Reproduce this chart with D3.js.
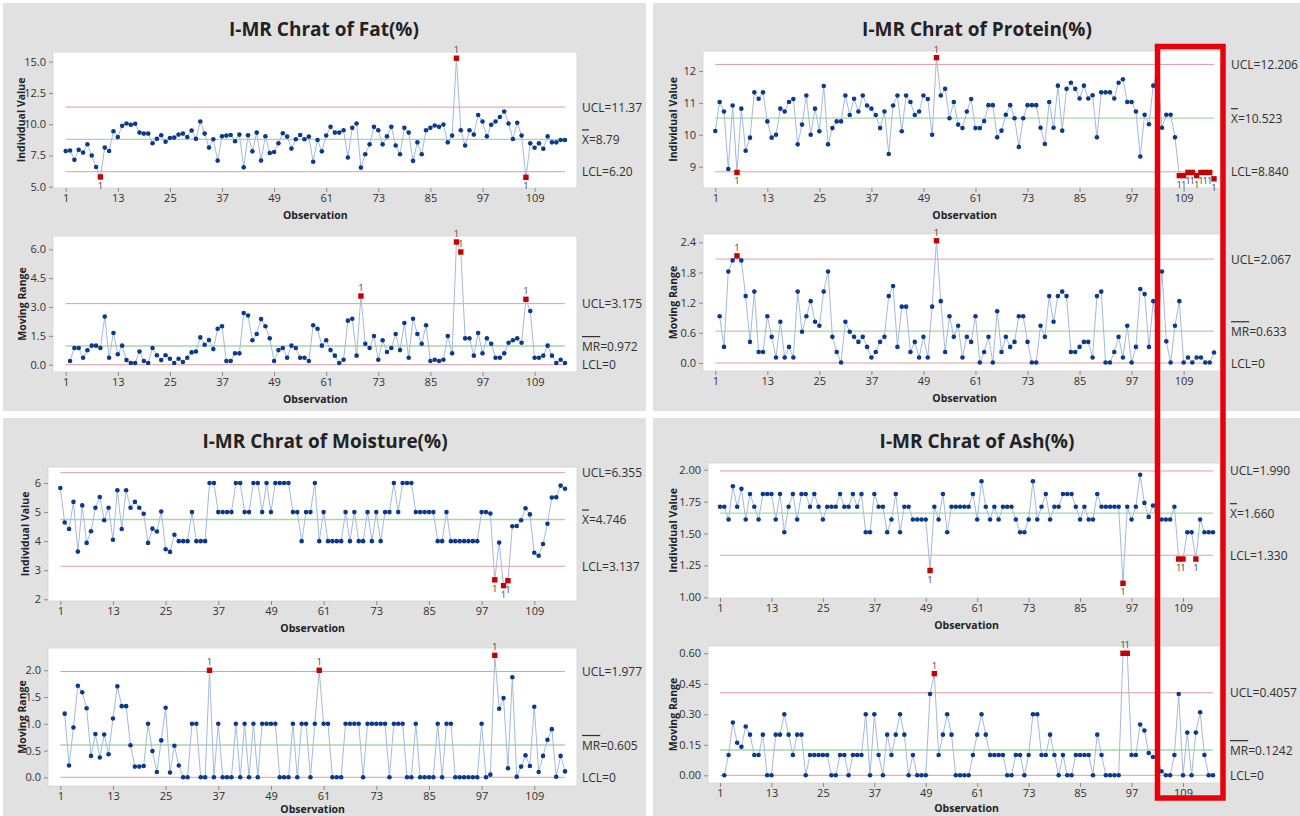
<!DOCTYPE html>
<html>
<head>
<meta charset="utf-8">
<script src="https://cdn.jsdelivr.net/npm/d3@7"></script>
<style>
  body { margin: 0; background: #fff; }
  svg { display: block; font-family: 'Open Sans', 'Noto Sans', sans-serif; }
</style>
</head>
<body>
<svg id="chart" width="1300" height="816"></svg>
<script>
// ---- data ----
const titles = ['I-MR Chrat of Fat(%)', 'I-MR Chrat of Protein(%)', 'I-MR Chrat of Moisture(%)', 'I-MR Chrat of Ash(%)'];
const obsTicks = [1, 13, 25, 37, 49, 61, 73, 85, 97, 109];

const fatInd = [7.85,7.90,7.15,7.95,7.73,8.40,7.50,6.58,5.78,8.13,
  7.86,9.44,8.98,9.87,10.05,9.95,10.03,9.33,9.25,9.25,
  8.48,8.83,9.12,8.60,8.90,8.93,9.17,9.25,8.98,9.50,
  8.83,10.21,9.25,8.13,8.80,7.09,9.04,9.09,9.14,8.64,
  9.17,6.55,9.12,7.83,9.33,7.09,9.04,7.70,7.78,8.48,
  9.28,9.01,8.05,8.80,9.14,8.80,9.01,7.00,8.74,7.83,
  9.10,9.79,9.33,9.33,9.52,7.34,9.71,10.06,6.53,7.60,
  8.39,9.79,9.52,8.39,9.03,9.79,8.30,7.60,9.71,9.33,
  7.07,8.55,7.60,9.52,9.71,9.89,9.79,9.97,8.55,9.09,
  15.28,9.52,8.30,9.52,9.17,10.73,10.22,9.03,9.95,10.22,
  10.57,11.02,10.06,8.82,10.11,9.09,5.75,8.47,8.12,8.47,
  8.04,9.03,8.55,8.55,8.74,8.74];
const fatMR = [0.19,0.87,0.87,0.36,0.75,0.99,0.99,0.87,2.50,
  0.36,1.65,0.54,0.99,0.24,0.09,0.09,0.69,0.19,0.09,
  0.87,0.49,0.24,0.49,0.31,0.09,0.31,0.14,0.36,0.64,
  0.69,1.42,1.04,1.28,0.81,1.87,2.00,0.19,0.19,0.59,
  0.59,2.69,2.56,1.27,1.60,2.37,2.00,1.37,0.19,0.76,
  0.87,0.36,0.99,0.87,0.36,0.36,0.19,2.05,1.87,0.99,
  1.27,0.76,0.47,0.09,0.26,2.29,2.39,0.47,3.57,1.09,
  0.87,1.49,0.26,1.27,0.66,0.87,1.60,0.76,2.17,0.36,
  2.39,1.60,1.09,2.05,0.19,0.26,0.19,0.26,1.49,0.59,
  6.38,5.86,1.37,1.37,0.47,1.65,0.59,1.37,1.09,0.36,
  0.36,0.59,1.14,1.27,1.37,1.14,3.40,2.79,0.36,0.36,
  0.47,0.99,0.47,0.09,0.26,0.09];
const fatIndLim = [6.20, 8.79, 11.37];
const fatIndTxt = ['6.20', '8.79', '11.37'];
const fatMRLim = [0, 0.972, 3.175];
const fatMRTxt = ['0', '0.972', '3.175'];

const proteinInd = [10.12,11.03,10.73,8.93,10.92,8.82,10.82,9.50,9.91,11.33,
  11.13,11.33,10.42,9.91,10.00,10.82,10.73,11.03,11.12,9.70,
  10.32,11.23,10.00,10.82,10.11,11.53,9.70,10.21,10.42,10.42,
  11.23,10.62,11.13,10.73,11.23,10.92,10.82,10.62,10.21,10.73,
  9.40,10.92,11.23,10.11,11.23,11.03,10.62,10.73,11.23,11.12,
  10.00,12.42,11.23,11.44,10.52,11.03,10.32,10.21,10.73,11.12,
  10.21,10.21,10.43,10.93,10.93,9.92,10.13,10.63,10.93,10.52,
  9.62,10.52,10.93,10.93,10.93,10.22,9.71,11.03,10.22,11.54,
  10.13,11.44,11.63,11.44,11.14,11.54,11.14,11.24,9.92,11.33,
  11.33,11.33,11.14,11.63,11.74,11.03,11.03,10.73,9.32,10.63,
  10.33,11.54,12.04,10.22,10.63,10.63,9.92,8.72,8.72,8.82,
  8.82,8.72,8.82,8.82,8.82,8.62];
const proteinMR = [0.93,0.32,1.82,2.04,2.13,2.04,1.33,0.42,1.42,
  0.22,0.22,0.93,0.52,0.11,0.82,0.11,0.32,0.11,1.42,
  0.62,0.93,1.23,0.82,0.74,1.42,1.82,0.52,0.22,0.01,
  0.82,0.62,0.52,0.42,0.52,0.32,0.11,0.22,0.42,0.52,
  1.33,1.53,0.32,1.12,1.12,0.22,0.42,0.11,0.52,0.11,
  1.12,2.43,1.23,0.22,0.93,0.52,0.74,0.11,0.52,0.42,
  0.93,0.01,0.22,0.52,0.01,1.03,0.22,0.52,0.32,0.42,
  0.93,0.93,0.42,0.01,0.01,0.74,0.52,1.33,0.82,1.33,
  1.42,1.33,0.22,0.22,0.32,0.42,0.42,0.11,1.33,1.42,
  0.01,0.01,0.22,0.52,0.11,0.74,0.01,0.32,1.47,1.37,
  0.32,1.23,0.52,1.82,0.43,0.01,0.74,1.23,0.01,0.11,
  0.01,0.11,0.11,0.01,0.01,0.21];
const proteinIndLim = [8.840, 10.523, 12.206];
const proteinIndTxt = ['8.840', '10.523', '12.206'];
const proteinMRLim = [0, 0.633, 2.067];
const proteinMRTxt = ['0', '0.633', '2.067'];

const moistureInd = [5.83,4.64,4.42,5.35,3.64,5.23,3.94,4.34,5.15,5.52,
  4.72,5.15,4.05,5.75,4.42,5.75,5.15,5.35,5.15,4.94,
  3.94,4.43,4.33,5.02,3.72,3.63,4.22,4.00,4.00,4.00,
  5.00,4.00,4.00,4.00,6.00,6.00,5.00,5.00,5.00,5.00,
  6.00,6.00,5.00,5.00,6.00,6.00,5.00,6.00,5.00,6.00,
  6.00,6.00,6.00,5.00,5.00,4.00,5.00,5.00,6.00,4.00,
  5.00,4.00,4.00,4.00,4.00,5.00,4.00,5.00,4.00,4.00,
  5.00,4.00,5.00,4.00,5.00,5.00,6.00,5.00,6.00,6.00,
  6.00,5.00,5.00,5.00,5.00,5.00,4.00,4.00,5.00,4.00,
  4.00,4.00,4.00,4.00,4.00,4.00,5.00,5.00,4.95,2.67,
  3.95,2.47,2.64,4.51,4.52,4.72,5.13,4.92,3.60,3.50,
  3.90,4.60,5.50,5.51,5.91,5.80];
const moistureMR = [1.19,0.22,0.93,1.71,1.59,1.29,0.40,0.81,0.37,
  0.80,0.43,1.10,1.70,1.33,1.33,0.60,0.20,0.20,0.21,
  1.00,0.49,0.10,0.69,1.30,0.09,0.59,0.22,0.00,0.00,
  1.00,1.00,0.00,0.00,2.00,0.00,1.00,0.00,0.00,0.00,
  1.00,0.00,1.00,0.00,1.00,0.00,1.00,1.00,1.00,1.00,
  0.00,0.00,0.00,1.00,0.00,1.00,1.00,0.00,1.00,2.00,
  1.00,1.00,0.00,0.00,0.00,1.00,1.00,1.00,1.00,0.00,
  1.00,1.00,1.00,1.00,1.00,0.00,1.00,1.00,1.00,0.00,
  0.00,1.00,0.00,0.00,0.00,0.00,1.00,0.00,1.00,1.00,
  0.00,0.00,0.00,0.00,0.00,0.00,1.00,0.00,0.05,2.28,
  1.28,1.48,0.17,1.87,0.01,0.20,0.41,0.21,1.32,0.10,
  0.40,0.70,0.90,0.01,0.40,0.11];
const moistureIndLim = [3.137, 4.746, 6.355];
const moistureIndTxt = ['3.137', '4.746', '6.355'];
const moistureMRLim = [0, 0.605, 1.977];
const moistureMRTxt = ['0', '0.605', '1.977'];

const ashInd = [1.71,1.71,1.61,1.87,1.71,1.85,1.61,1.81,1.71,1.61,
  1.81,1.81,1.81,1.61,1.81,1.51,1.71,1.81,1.61,1.81,
  1.81,1.71,1.81,1.71,1.61,1.71,1.71,1.71,1.81,1.71,
  1.71,1.81,1.71,1.81,1.51,1.51,1.81,1.71,1.71,1.51,
  1.61,1.81,1.51,1.71,1.71,1.61,1.61,1.61,1.61,1.21,
  1.71,1.61,1.81,1.51,1.71,1.71,1.71,1.71,1.71,1.81,
  1.61,1.91,1.71,1.61,1.71,1.61,1.71,1.71,1.71,1.61,
  1.51,1.51,1.61,1.91,1.61,1.71,1.81,1.61,1.71,1.71,
  1.81,1.81,1.81,1.71,1.61,1.71,1.61,1.61,1.81,1.71,
  1.71,1.71,1.71,1.71,1.11,1.71,1.61,1.71,1.96,1.74,
  1.63,1.72,1.63,1.61,1.61,1.61,1.71,1.30,1.30,1.51,
  1.51,1.30,1.61,1.51,1.51,1.51];
const ashMR = [0.00,0.10,0.26,0.16,0.14,0.24,0.20,0.10,0.10,
  0.20,0.00,0.00,0.20,0.20,0.30,0.20,0.10,0.20,0.20,
  0.00,0.10,0.10,0.10,0.10,0.10,0.00,0.00,0.10,0.10,
  0.00,0.10,0.10,0.10,0.30,0.00,0.30,0.10,0.00,0.20,
  0.10,0.20,0.30,0.20,0.00,0.10,0.00,0.00,0.00,0.40,
  0.50,0.10,0.20,0.30,0.20,0.00,0.00,0.00,0.00,0.10,
  0.20,0.30,0.20,0.10,0.10,0.10,0.10,0.00,0.00,0.10,
  0.10,0.00,0.10,0.30,0.30,0.10,0.10,0.20,0.10,0.00,
  0.10,0.00,0.00,0.10,0.10,0.10,0.10,0.00,0.20,0.10,
  0.00,0.00,0.00,0.00,0.60,0.60,0.10,0.10,0.25,0.22,
  0.11,0.09,0.09,0.02,0.00,0.00,0.10,0.40,0.00,0.21,
  0.00,0.21,0.31,0.10,0.00,0.00];
const ashIndLim = [1.330, 1.660, 1.990];
const ashIndTxt = ['1.330', '1.660', '1.990'];
const ashMRLim = [0, 0.1242, 0.4057];
const ashMRTxt = ['0', '0.1242', '0.4057'];

// ---- layout ----
const svg = d3.select('#chart');

const colors = {
  panel: '#e1e1e1',
  dot: '#0b3a8c',
  line: '#a3badb',
  limit: '#e29ca4',
  center: '#a8d6a8',
  out: '#c80000',
  text: '#303030'
};

const panels = [
  {x: 3, y: 3, w: 643, h: 408, tx: 324, ty: 29},
  {x: 653, y: 3, w: 647, h: 408, tx: 977, ty: 29},
  {x: 3, y: 418, w: 643, h: 398, tx: 325, ty: 441},
  {x: 653, y: 418, w: 647, h: 398, tx: 977, ty: 441}
];

const charts = [
  // fat
  {vals: fatInd, start: 1, lim: fatIndLim, txt: fatIndTxt, mr: false, box: [53, 577, 52, 188], xr: [65.7, 565],
    yd: [5, 15], yr: [186.7, 61.7], yt: [5, 7.5, 10, 12.5, 15], fmt: '.1f', lx: 582, alx: 21, oy: 27},
  {vals: fatMR, start: 2, lim: fatMRLim, txt: fatMRTxt, mr: true, box: [53, 577, 236, 372], xr: [65.7, 565],
    yd: [0, 6], yr: [364.7, 249.3], yt: [0, 1.5, 3, 4.5, 6], fmt: '.1f', lx: 582, alx: 22, oy: 27},
  // protein
  {vals: proteinInd, start: 1, lim: proteinIndLim, txt: proteinIndTxt, mr: false, box: [703, 1222, 51, 188], xr: [715.3, 1214],
    yd: [9, 12], yr: [166.7, 71], yt: [9, 10, 11, 12], fmt: 'd', lx: 1231, alx: 673, oy: 27},
  {vals: proteinMR, start: 2, lim: proteinMRLim, txt: proteinMRTxt, mr: true, box: [703, 1222, 234, 371], xr: [715.3, 1214],
    yd: [0, 2.4], yr: [363, 242.3], yt: [0, 0.6, 1.2, 1.8, 2.4], fmt: '.1f', lx: 1231, alx: 673, oy: 27},
  // moisture
  {vals: moistureInd, start: 1, lim: moistureIndLim, txt: moistureIndTxt, mr: false, box: [48, 577, 467, 601], xr: [60.3, 565],
    yd: [2, 6], yr: [599.3, 483], yt: [2, 3, 4, 5, 6], fmt: 'd', lx: 582, alx: 25, oy: 27},
  {vals: moistureMR, start: 2, lim: moistureMRLim, txt: moistureMRTxt, mr: true, box: [48, 577, 648, 786], xr: [60.3, 565],
    yd: [0, 2], yr: [777.3, 670.3], yt: [0, 0.5, 1, 1.5, 2], fmt: '.1f', lx: 582, alx: 22, oy: 23},
  // ash
  {vals: ashInd, start: 1, lim: ashIndLim, txt: ashIndTxt, mr: false, box: [708, 1221, 463, 598], xr: [720, 1213],
    yd: [1, 2], yr: [597.3, 469.7], yt: [1, 1.25, 1.5, 1.75, 2], fmt: '.2f', lx: 1230, alx: 673, oy: 27},
  {vals: ashMR, start: 2, lim: ashMRLim, txt: ashMRTxt, mr: true, box: [708, 1221, 646, 783], xr: [720, 1213],
    yd: [0, 0.6], yr: [775.3, 653.3], yt: [0, 0.15, 0.3, 0.45, 0.6], fmt: '.2f', lx: 1230, alx: 673, oy: 25}
];

// panels + titles
panels.forEach((p, i) => {
  svg.append('rect')
    .attr('x', p.x).attr('y', p.y)
    .attr('width', p.w).attr('height', p.h)
    .attr('fill', colors.panel);
  svg.append('text')
    .attr('x', p.tx).attr('y', p.ty)
    .attr('text-anchor', 'middle')
    .attr('dominant-baseline', 'central')
    .attr('font-size', '19px')
    .attr('font-weight', 'bold')
    .attr('fill', '#222')
    .text(titles[i]);
});

function drawChart(c) {
  let g = svg.append('g');
  let [x0, x1, y0, y1] = c.box;

  g.append('rect')
    .attr('x', x0).attr('y', y0)
    .attr('width', x1 - x0).attr('height', y1 - y0)
    .attr('fill', '#fff')
    .attr('stroke', '#d4d4d4')
    .attr('stroke-width', 0.8);

  let x = d3.scaleLinear().domain([1, 116]).range(c.xr);
  let y = d3.scaleLinear().domain(c.yd).range(c.yr);

  let yAxis = g.append('g')
    .attr('transform', `translate(${x0},0)`)
    .call(d3.axisLeft(y).tickValues(c.yt).tickFormat(d3.format(c.fmt)).tickSize(4).tickPadding(3));
  let xAxis = g.append('g')
    .attr('transform', `translate(0,${y1})`)
    .call(d3.axisBottom(x).tickValues(obsTicks).tickSize(4).tickPadding(2));

  [yAxis, xAxis].forEach(a => {
    a.select('.domain').remove();
    a.selectAll('line').attr('stroke', '#8a8a8a');
    a.selectAll('text')
      .attr('fill', colors.text)
      .style('font-size', '11px')
      .style('font-family', "'Open Sans', sans-serif");
  });

  // control lines
  c.lim.forEach((v, i) => {
    g.append('line')
      .attr('x1', x(1)).attr('x2', x(116))
      .attr('y1', y(v)).attr('y2', y(v))
      .attr('stroke', i === 1 ? colors.center : colors.limit)
      .attr('stroke-width', i === 1 ? 1.4 : 1);
  });

  // control labels
  let names = ['LCL=', c.mr ? 'MR' : 'X', 'UCL='];
  c.lim.forEach((v, i) => {
    let t = g.append('text')
      .attr('x', c.lx).attr('y', y(v))
      .attr('dominant-baseline', 'central')
      .attr('font-size', '12px')
      .attr('fill', colors.text);
    if (i === 1) {
      t.append('tspan').style('text-decoration', 'overline').text(names[i]);
      t.append('tspan').text('=' + c.txt[i]);
    } else {
      t.text(names[i] + c.txt[i]);
    }
  });

  let pts = c.vals.map((v, i) => ({obs: i + c.start, v: v}));
  let isOut = d => d.v > c.lim[2] || (!c.mr && d.v < c.lim[0]);

  g.append('path')
    .datum(pts)
    .attr('fill', 'none')
    .attr('stroke', colors.line)
    .attr('stroke-width', 1)
    .attr('d', d3.line().x(d => x(d.obs)).y(d => y(d.v)));

  g.selectAll('.dot')
    .data(pts.filter(d => !isOut(d)))
    .enter()
    .append('circle')
    .attr('class', 'dot')
    .attr('cx', d => x(d.obs))
    .attr('cy', d => y(d.v))
    .attr('r', 2.3)
    .attr('fill', colors.dot);

  let outs = pts.filter(isOut);
  g.selectAll('.out')
    .data(outs)
    .enter()
    .append('rect')
    .attr('class', 'out')
    .attr('x', d => x(d.obs) - 2.7)
    .attr('y', d => y(d.v) - 2.7)
    .attr('width', 5.4).attr('height', 5.4)
    .attr('fill', colors.out);

  g.selectAll('.outlbl')
    .data(outs)
    .enter()
    .append('text')
    .attr('class', 'outlbl')
    .attr('x', d => x(d.obs))
    .attr('y', d => d.v > c.lim[2] ? y(d.v) - 5 : y(d.v) + 12)
    .attr('text-anchor', 'middle')
    .attr('font-size', '9.5px')
    .attr('fill', '#444')
    .text('1');

  // axis titles
  g.append('text')
    .attr('transform', `translate(${c.alx},${(y0 + y1) / 2}) rotate(-90)`)
    .attr('text-anchor', 'middle')
    .attr('dominant-baseline', 'central')
    .attr('font-size', '10.5px')
    .attr('font-weight', 'bold')
    .attr('fill', '#222')
    .text(c.mr ? 'Moving Range' : 'Individual Value');

  g.append('text')
    .attr('x', (c.xr[0] + c.xr[1]) / 2)
    .attr('y', y1 + c.oy)
    .attr('text-anchor', 'middle')
    .attr('dominant-baseline', 'central')
    .attr('font-size', '10.5px')
    .attr('font-weight', 'bold')
    .attr('fill', '#222')
    .text('Observation');
}

charts.forEach(drawChart);

// red highlight box drawn over the right-hand charts
svg.append('rect')
  .attr('x', 1157.5).attr('y', 46.5)
  .attr('width', 65.5).attr('height', 751.5)
  .attr('fill', 'none')
  .attr('stroke', '#e8000a')
  .attr('stroke-width', 5.5);
</script>
</body>
</html>
